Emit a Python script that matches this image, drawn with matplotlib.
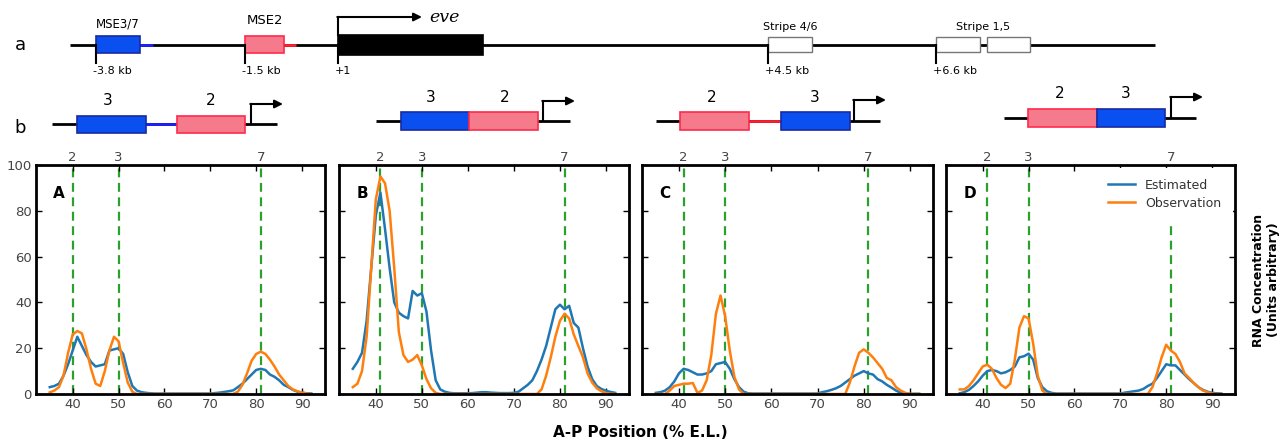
import numpy as np
import matplotlib
matplotlib.use("Agg")
import matplotlib.pyplot as plt
from matplotlib.patches import Rectangle
from matplotlib.transforms import blended_transform_factory

# ---------------- data ----------------
positions = list(range(35, 93))  # A-P position (% E.L.)

A_est = [3, 3.5, 4.5, 8, 13, 19, 25, 21, 17, 14,
         12, 12.5, 13, 19, 19.5, 20, 17.5, 9.5, 3.5, 1.5,
         0.8, 0.5, 0.3, 0.2, 0.2, 0.2, 0.2, 0.2, 0.2, 0.2,
         0.2, 0.2, 0.2, 0.2, 0.2, 0.2, 0.4, 0.6, 0.9, 1.2,
         1.6, 3, 4.5, 6.5, 8.5, 10.5, 11, 10.5, 8.5, 7.5,
         6, 4, 3, 1.8, 1, 0.6, 0.3, 0.2]
A_obs = [0.7, 1.5, 3, 8, 18, 26, 27.5, 26.5, 19.5, 11,
         4.5, 3.5, 10, 19, 25, 23, 13.5, 5, 1, 0,
         0, 0, 0, 0, 0, 0, 0, 0, 0, 0,
         0, 0, 0, 0, 0, 0, 0, 0, 0, 0,
         0, 1, 4, 9, 14.5, 17.5, 18.5, 17.5, 15, 12,
         8.5, 6, 3.5, 2, 1.2, 0.6, 0.2, 0]

B_est = [11, 14, 18, 32, 55, 78, 88, 72, 55, 40,
         35.5, 34, 33, 45, 43, 44, 36, 19, 6, 2,
         1, 0.5, 0.3, 0.3, 0.3, 0.3, 0.4, 0.6, 0.8, 0.8,
         0.6, 0.5, 0.4, 0.4, 0.4, 0.5, 1, 2.5, 4, 6,
         10, 15, 21, 29, 37, 39, 37, 38.5, 31, 29,
         20, 12, 6.5, 3.5, 2.2, 1.4, 0.9, 0.5]
B_obs = [3, 4.5, 10, 25, 55, 85, 95, 92, 80, 55,
         27, 17, 14, 15, 17, 12.5, 6.5, 2.5, 0.5, 0,
         0, 0, 0, 0, 0, 0, 0, 0, 0, 0,
         0, 0, 0, 0, 0, 0, 0, 0, 0, 0,
         0, 2, 8, 16, 25, 32, 35, 33, 26, 21,
         16, 9, 5, 2.5, 1.2, 0.4, 0.1, 0]

C_est = [0.5, 0.8, 1.5, 3, 5.5, 9, 11, 10.5, 9.5, 8.5,
         8.5, 9, 10, 13, 13.5, 14, 11, 6.5, 3, 1,
         0.3, 0.2, 0.2, 0.2, 0.2, 0.2, 0.2, 0.2, 0.2, 0.2,
         0.2, 0.2, 0.2, 0.2, 0.2, 0.2, 0.8, 1.2, 1.8, 2.5,
         3.5, 5, 6.5, 8, 9, 10, 9, 8.5, 6.5, 5.5,
         4, 2.8, 1.5, 0.5, 0.2, 0.1, 0.1, 0.1]
C_obs = [0, 0, 0, 1.5, 3.5, 4, 4.5, 4.5, 4.8, 0.5,
         1.5, 6, 17, 35, 43, 34, 19, 7.5, 2, 0,
         0, 0, 0, 0, 0, 0, 0, 0, 0, 0,
         0, 0, 0, 0, 0, 0, 0, 0, 0, 0,
         0, 0, 5, 12, 18, 19.5, 18, 16, 13.5, 11,
         7, 6, 3, 1.5, 0.5, 0, 0, 0]

D_est = [0.3, 0.8, 1.8, 3.5, 5.5, 8, 10, 10.5, 10, 9,
         9.5, 10.5, 12, 16, 16.5, 17.6, 15, 7, 3, 1.2,
         0.5, 0.2, 0.2, 0.2, 0.2, 0.2, 0.2, 0.2, 0.2, 0.2,
         0.2, 0.2, 0.2, 0.2, 0.2, 0.2, 0.6, 0.9, 1.2, 1.5,
         2.2, 3.5, 4.5, 7, 10, 13, 12.5, 12.5, 10.5, 8.5,
         6.5, 4.8, 3, 1.8, 1, 0.5, 0.3, 0.2]
D_obs = [2, 2, 3.5, 6, 9, 12, 12.8, 11, 7, 4,
         2.6, 4.5, 15, 29, 34, 33, 22, 8, 1.5, 0,
         0, 0, 0, 0, 0, 0, 0, 0, 0, 0,
         0, 0, 0, 0, 0, 0, 0, 0, 0, 0,
         0, 0, 3, 9, 16, 21.5, 19, 17.5, 14, 9,
         7, 4.8, 3, 1.5, 0.8, 0.2, 0, 0]

panel_names = ["A", "B", "C", "D"]
estimated = [A_est, B_est, C_est, D_est]
observed = [A_obs, B_obs, C_obs, D_obs]
stripe_labels = ["2", "3", "7"]
stripe_pos = [[40, 50, 81], [41, 50, 81], [41, 50, 81], [41, 50, 81]]
x_ticks = [40, 50, 60, 70, 80, 90]
y_ticks = [0, 20, 40, 60, 80, 100]

for s in estimated + observed:
    assert len(s) == len(positions)

# ---------------- figure ----------------
W, H = 1285, 444
fig = plt.figure(figsize=(W / 100, H / 100), dpi=100)

BLUE = "#1f77b4"
ORANGE = "#ff7f0e"
GREEN = "#2ca02c"
TICKC = "#444444"

# overlay axes in pixel coordinates for the schematic
ov = fig.add_axes([0, 0, 1, 1])
ov.set_xlim(0, W)
ov.set_ylim(H, 0)
ov.axis("off")
ov.patch.set_alpha(0)

BOX_BLUE = "#0a50f0"
BOX_BLUE_E = "#1a2aa0"
BOX_PINK = "#f57a8c"
BOX_PINK_E = "#ff2a4a"

def box(x0, x1, yc, h, fc, ec, lw=1.2):
    ov.add_patch(Rectangle((x0, yc - h / 2), x1 - x0, h, facecolor=fc,
                           edgecolor=ec, lw=lw, zorder=3))

def hline(x0, x1, y, color="k", lw=2.0, z=2):
    ov.plot([x0, x1], [y, y], color=color, lw=lw, solid_capstyle="butt", zorder=z)

def promoter(x, ybase, ytop, xtip):
    ov.plot([x, x], [ybase, ytop], color="k", lw=1.5, zorder=4)
    ov.annotate("", xy=(xtip, ytop), xytext=(x - 0.7, ytop),
                arrowprops=dict(arrowstyle="-|>", lw=1.5, color="k",
                                mutation_scale=12, shrinkA=0, shrinkB=0),
                zorder=4)

# ---- row a ----
ya = 45
ov.text(20, ya, "a", fontsize=13, ha="center", va="center")
hline(70, 1155, ya)
# MSE3/7
box(96, 140, ya, 17, BOX_BLUE, BOX_BLUE_E)
hline(140, 153, ya, color="#2020ff", lw=2, z=3)
# MSE2
box(245, 284, ya, 17, BOX_PINK, BOX_PINK_E)
hline(284, 296, ya, color="#ff2030", lw=2, z=3)
# eve gene
box(338, 483, ya, 20, "black", "black")
promoter(338, ya - 10, 17, 422)
ov.text(429, 17, "eve", fontsize=12.5, style="italic", family="DejaVu Serif",
        ha="left", va="center")
# stripe 4/6, 1,5
box(768, 812, ya, 15, "white", "#777777", lw=1.0)
box(936, 980, ya, 15, "white", "#777777", lw=1.0)
box(987, 1030, ya, 15, "white", "#777777", lw=1.0)
for tx, lab in [(96, "-3.8 kb"), (245, "-1.5 kb"), (338, "+1"),
                (768, "+4.5 kb"), (936, "+6.6 kb")]:
    ov.plot([tx, tx], [ya, 63], color="k", lw=1.5, zorder=4)
    ov.text(tx - 3, 71, lab, fontsize=8, ha="left", va="center")
ov.text(118, 24, "MSE3/7", fontsize=8.5, ha="center", va="center")
ov.text(265, 21, "MSE2", fontsize=9.5, ha="center", va="center")
ov.text(790, 27, "Stripe 4/6", fontsize=8, ha="center", va="center")
ov.text(983, 27, "Stripe 1,5", fontsize=8, ha="center", va="center")

# ---- row b ----
ov.text(20, 128, "b", fontsize=13, ha="center", va="center")
# construct 1: 3 - spacer - 2
y1 = 124
hline(52, 277, y1)
box(77, 146, y1, 17, BOX_BLUE, BOX_BLUE_E)
hline(146, 177, y1, color="#2020ff", lw=2, z=3)
box(177, 245, y1, 17, BOX_PINK, BOX_PINK_E)
promoter(251, y1, 104, 283)
ov.text(108, 100, "3", fontsize=11, ha="center", va="center")
ov.text(211, 100, "2", fontsize=11, ha="center", va="center")
# construct 2: 3 2
y2 = 121
hline(376, 570, y2)
box(401, 469, y2, 18, BOX_BLUE, BOX_BLUE_E)
box(469, 538, y2, 18, BOX_PINK, BOX_PINK_E)
promoter(543, y2, 101, 575)
ov.text(431, 97, "3", fontsize=11, ha="center", va="center")
ov.text(505, 97, "2", fontsize=11, ha="center", va="center")
# construct 3: 2 - spacer - 3
y3 = 121
hline(656, 880, y3)
box(680, 749, y3, 18, BOX_PINK, BOX_PINK_E)
hline(749, 781, y3, color="#ff2030", lw=2, z=3)
box(781, 850, y3, 18, BOX_BLUE, BOX_BLUE_E)
promoter(854, y3, 100, 886)
ov.text(712, 97, "2", fontsize=11, ha="center", va="center")
ov.text(815, 97, "3", fontsize=11, ha="center", va="center")
# construct 4: 2 3
y4 = 118
hline(1004, 1196, y4)
box(1028, 1097, y4, 18, BOX_PINK, BOX_PINK_E)
box(1097, 1165, y4, 18, BOX_BLUE, BOX_BLUE_E)
promoter(1171, y4, 97, 1203)
ov.text(1060, 94, "2", fontsize=11, ha="center", va="center")
ov.text(1126, 94, "3", fontsize=11, ha="center", va="center")

# ---------------- panels ----------------
panel_px = [(36, 325), (339, 629), (642, 933), (946, 1235)]
top_px, bot_px = 165, 394
axes = []
for i, (l, r) in enumerate(panel_px):
    ax = fig.add_axes([l / W, (H - bot_px) / H, (r - l) / W, (bot_px - top_px) / H])
    axes.append(ax)
    ax.set_xlim(32, 95)
    ax.set_ylim(0, 100)
    for xp in stripe_pos[i]:
        ax.axvline(xp, color=GREEN, lw=1.6, ls=(0, (4, 2.5)), zorder=1)
    ax.plot(positions, estimated[i], color=BLUE, lw=1.8, label="Estimated", zorder=2)
    ax.plot(positions, observed[i], color=ORANGE, lw=1.8, label="Observation", zorder=2)
    ax.set_xticks(x_ticks)
    ax.set_yticks(y_ticks)
    ax.tick_params(direction="in", length=4, width=1, top=True, right=True,
                   labelsize=9.5, labelcolor=TICKC, pad=3)
    if i > 0:
        ax.set_yticklabels([])
    for sp in ax.spines.values():
        sp.set_linewidth(2)
        sp.set_color("black")
    trans = blended_transform_factory(ax.transData, ax.transAxes)
    for xp, lab in zip(stripe_pos[i], stripe_labels):
        ax.text(xp, 1.005, lab, transform=trans, ha="center", va="bottom",
                fontsize=9.5, color=TICKC)
    ax.text(0.06, 0.875, panel_names[i], transform=ax.transAxes, fontsize=11,
            fontweight="bold", ha="left", va="center")

leg = axes[3].legend(loc="upper right", fontsize=9, frameon=True,
                     handlelength=2.2, handletextpad=0.8, borderaxespad=0.2,
                     borderpad=0.9, labelspacing=0.4,
                     bbox_to_anchor=(1.0, 1.0))
leg.get_frame().set_edgecolor("none")
leg.get_frame().set_facecolor("white")
leg.get_frame().set_alpha(1)
leg.set_zorder(5)
for t in leg.get_texts():
    t.set_color("#333333")

fig.text(640 / W, 1 - 432 / H, "A-P Position (% E.L.)", fontsize=11,
         fontweight="bold", ha="center", va="center")
fig.text(1266 / W, 1 - 280 / H, "RNA Concentration\n(Units arbitrary)", fontsize=9,
         fontweight="bold", ha="center", va="center", rotation=90,
         linespacing=1.2)

fig.savefig("out.png", dpi=100)
